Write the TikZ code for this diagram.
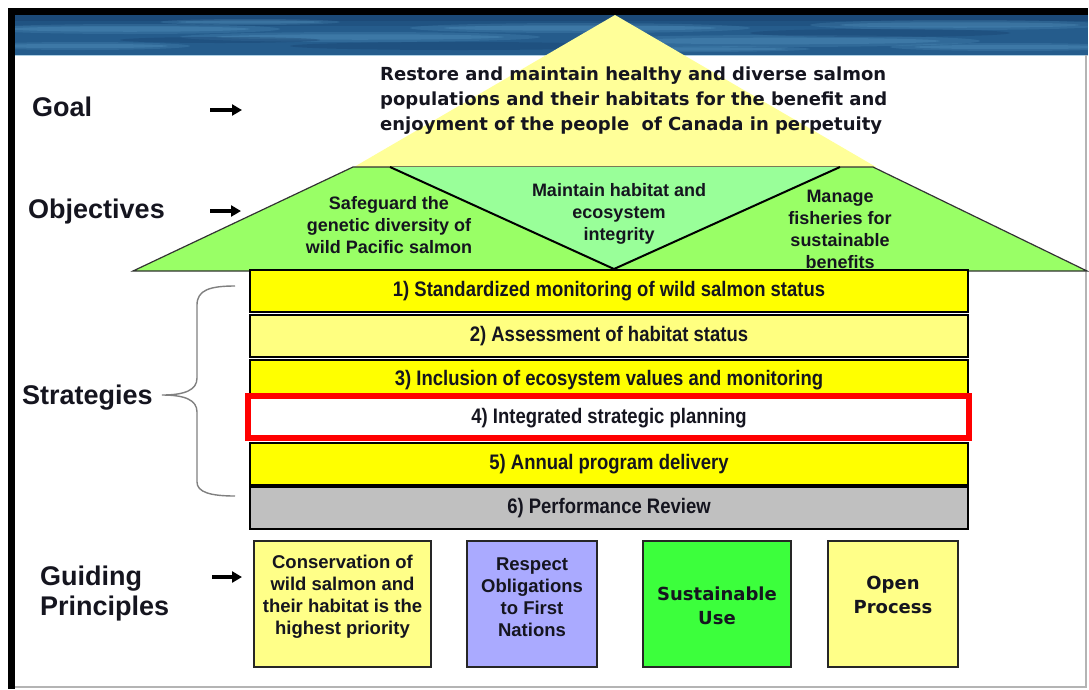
\documentclass[tikz,border=0pt]{standalone}
\usepackage{fontspec}
\setmainfont{Liberation Sans}
\newfontfamily\narrowfont[FakeStretch=0.88]{Liberation Sans}
\newfontfamily\widefont{DejaVu Sans}
\usetikzlibrary{arrows.meta}
\definecolor{seadark}{HTML}{163F6C}
\definecolor{seamid}{HTML}{255C8C}
\definecolor{sealight}{HTML}{5D9EC8}
\definecolor{roof}{HTML}{FFFF99}
\definecolor{objgreen}{HTML}{99FF66}
\definecolor{objmint}{HTML}{99FF99}
\definecolor{stratyellow}{HTML}{FFFF00}
\definecolor{stratpale}{HTML}{FFFF80}
\definecolor{stratgray}{HTML}{C0C0C0}
\definecolor{gpyellow}{HTML}{FFFF88}
\definecolor{gpviolet}{HTML}{AAAAFF}
\definecolor{gpgreen}{HTML}{3CFF3C}
\definecolor{labelink}{HTML}{15151F}
\definecolor{framegray}{HTML}{B4B4B4}
\begin{document}
\begin{tikzpicture}[x=1pt,y=-1pt,
  sidelabel/.style={font=\fontsize{27}{30}\selectfont\bfseries, text=labelink, align=left, inner sep=0},
  pointer/.style={line width=3.2pt, -{Triangle[length=10pt,width=11pt]}},
  objtext/.style={font=\fontsize{18}{22}\selectfont\bfseries, text=labelink, align=center, inner sep=0},
  stratbox/.style={draw=black, line width=2pt, minimum width=718pt, minimum height=42pt, inner sep=0,
    font=\narrowfont\fontsize{21}{24}\selectfont\bfseries, text=labelink},
  gpbox/.style={draw=black!85, line width=2pt, minimum height=126pt, inner sep=0},
  gptext/.style={font=\fontsize{18.5}{22}\selectfont\bfseries, text=labelink, align=center, inner sep=0},
  gpwide/.style={font=\widefont\fontsize{18}{24.5}\selectfont\bfseries, text=labelink, align=center, inner sep=0},
]
\useasboundingbox (0,0) rectangle (1089,689);
\fill[white] (0,0) rectangle (1089,689);

% water banner along the top: blue base with soft light and dark ripples
\begin{scope}
  \clip (15,15) rectangle (1088,55);
  \fill[seamid] (15,15) rectangle (1088,55);
  \fill[seadark, opacity=0.6] (15,15) rectangle (1088,21);
  \fill[seadark, opacity=0.3] (15,21) rectangle (1088,26);
  \foreach \cx/\cy/\rx/\ry in {130/29/150/5, 360/37/180/5, 80/46/110/4, 580/28/170/5,
                              780/41/200/6, 960/25/150/5, 1010/47/120/4, 250/22/90/3, 690/49/120/3} {
    \fill[sealight, opacity=0.22] (\cx,\cy) ellipse ({\rx} and {\ry});
    \fill[sealight, opacity=0.28] (\cx,\cy) ellipse ({0.8*\rx} and {0.55*\ry});
  }
  \foreach \cx/\cy/\rx/\ry in {460/46/170/4, 880/33/130/4, 220/40/100/3} {
    \fill[seadark, opacity=0.35] (\cx,\cy) ellipse ({\rx} and {\ry});
  }
\end{scope}
\draw[sealight!50!white, line width=1pt] (15,55) -- (1088,55);

% frame
\fill[black] (8,8) rectangle (1088,15);
\fill[black] (8,8) rectangle (15,689);
\draw[framegray, line width=1.5pt] (15,687) -- (1086,687) -- (1086,55);

% roof: goal triangle, objectives band, middle objective
\fill[roof] (615,15) -- (876,167) -- (354,167) -- cycle;
\filldraw[fill=objgreen, draw=black!80, line width=1.2pt] (133,271) -- (353,167) -- (873,167) -- (1087,271) -- cycle;
\fill[objmint] (390,167) -- (840,167) -- (614,269) -- cycle;
\draw[black, line width=2pt] (390,167) -- (614,269) -- (840,167);

% goal statement
\node[anchor=north west, font=\widefont\fontsize{18}{25}\selectfont\bfseries, text=labelink, align=left, inner sep=0]
  (goaltext) at (380,67) {Restore and maintain healthy and diverse salmon\\populations and their habitats for the benefit and\\enjoyment of the people\ \ of Canada in perpetuity};

% objectives
\node[objtext] (obj1) at (389,225) {Safeguard the\\genetic diversity of\\wild Pacific salmon};
\node[objtext] (obj2) at (619,214) {Maintain habitat and\\ecosystem\\integrity};
\node[objtext] (obj3) at (840,229) {Manage\\fisheries for\\sustainable\\benefits};

% strategies
\node[stratbox, fill=stratyellow] (s1) at (609,291) {1) Standardized monitoring of wild salmon status};
\node[stratbox, fill=stratpale] (s2) at (609,336) {2) Assessment of habitat status};
\node[stratbox, fill=stratyellow, minimum height=40pt] (s3) at (609,380) {3) Inclusion of ecosystem values and monitoring};
\node[stratbox, fill=white, minimum height=40pt] (s4) at (609,418) {4) Integrated strategic planning};
\node[stratbox, fill=stratyellow] (s5) at (609,464) {5) Annual program delivery};
\node[stratbox, fill=stratgray] (s6) at (609,508) {6) Performance Review};
\node[draw=red, line width=6pt, minimum width=721pt, minimum height=42pt, inner sep=0] (focus) at (608.5,417) {};

% guiding principles
\node[gpbox, fill=gpyellow, minimum width=177pt] (g1) at (342.5,604) {};
\node[gpbox, fill=gpviolet, minimum width=130pt] (g2) at (532,604) {};
\node[gpbox, fill=gpgreen, minimum width=148pt] (g3) at (717,604) {};
\node[gpbox, fill=gpyellow, minimum width=130pt] (g4) at (893,604) {};
\node[gptext] (g1t) at (342.5,597) {Conservation of\\wild salmon and\\their habitat is the\\highest priority};
\node[gptext] (g2t) at (532,597) {Respect\\Obligations\\to First\\Nations};
\node[gpwide] (g3t) at (717,606) {Sustainable\\Use};
\node[gpwide] (g4t) at (893,595) {Open\\Process};

% row labels
\node[sidelabel, anchor=base west] (goal) at (32,116) {Goal};
\node[sidelabel, anchor=base west] (objectives) at (28,218) {Objectives};
\node[sidelabel, anchor=base west] (strategies) at (22,404) {Strategies};
\node[sidelabel, anchor=north west] (guiding) at (40,566) {Guiding\\Principles};

% pointers
\coordinate (p1a) at (210,110); \coordinate (p1b) at (242,110);
\coordinate (p2a) at (210,211); \coordinate (p2b) at (241,211);
\coordinate (p3a) at (212,577); \coordinate (p3b) at (242,577);
\draw[pointer] (p1a) -- (p1b);
\draw[pointer] (p2a) -- (p2b);
\draw[pointer] (p3a) -- (p3b);

% brace grouping the strategies
\coordinate (bracetip) at (162,395);
\draw[black!50, line width=1.4pt]
  (235,286) .. controls (210,286) and (197,290) .. (197,305)
  -- (197,378) .. controls (197,390) and (185,395) .. (bracetip)
  .. controls (185,395) and (197,400) .. (197,412)
  -- (197,482) .. controls (197,492) and (210,496) .. (235,496);
\end{tikzpicture}
\end{document}
